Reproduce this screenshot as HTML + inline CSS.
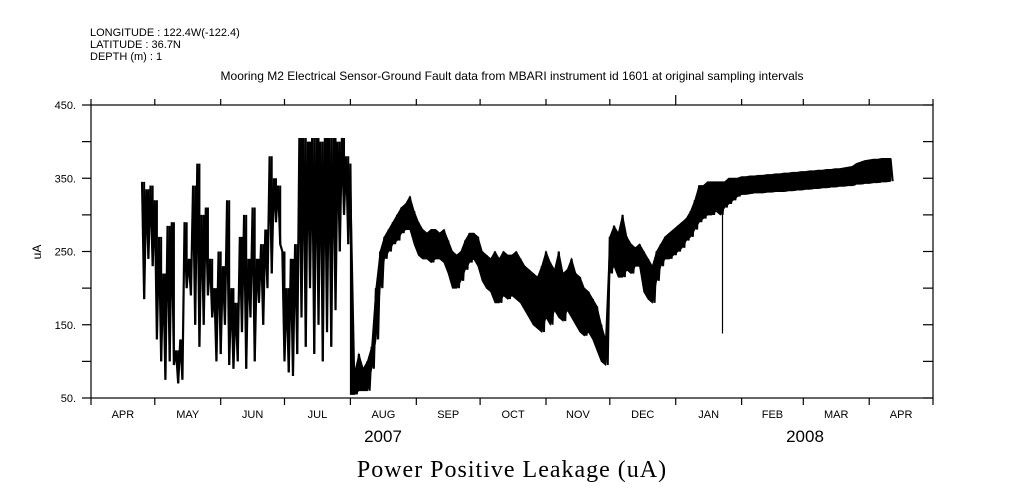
<!DOCTYPE html>
<html><head><meta charset="utf-8">
<style>
html,body{margin:0;padding:0;background:#fff;}
svg{display:block;font-family:"Liberation Sans",sans-serif;}
</style></head>
<body>
<svg id="chart" width="1009" height="504" viewBox="0 0 1009 504" xmlns="http://www.w3.org/2000/svg">
<g font-size="11" fill="#000">
<text x="90" y="36">LONGITUDE : 122.4W(-122.4)</text>
<text x="90" y="48">LATITUDE : 36.7N</text>
<text x="90" y="60">DEPTH (m) : 1</text>
<text x="512" y="80" text-anchor="middle" font-size="12">Mooring M2 Electrical Sensor-Ground Fault data from MBARI instrument id 1601 at original sampling intervals</text>
</g>
<g id="axes"></g>
<g id="series"></g>
<text x="41" y="252" font-size="12" text-anchor="middle" transform="rotate(-90 41 252)">uA</text>
<text x="383" y="442" font-size="17" text-anchor="middle">2007</text>
<text x="805" y="442" font-size="17" text-anchor="middle">2008</text>
<text x="512" y="477" font-size="24" text-anchor="middle" font-family="Liberation Serif, serif" letter-spacing="1">Power Positive Leakage (uA)</text>
</svg>
<script>
// ---- data ----
const monthLabels = ["APR","MAY","JUN","JUL","AUG","SEP","OCT","NOV","DEC","JAN","FEB","MAR","APR"];
const monthStartDays = [0,30,61,91,122,153,183,214,244,275,306,335,366,396];
const yTicks = [50,100,150,200,250,300,350,400,450];
const yTickLabels = ["50.","","150.","","250.","","350.","","450."];
const startDay = 24;
const stepDays = 2;
const lowValues = [185,240,230,130,100,75,100,95,70,75,200,190,150,120,150,190,160,100,110,150,
95,90,100,140,90,160,100,180,150,200,220,290,260,100,85,80,110,160,120,200,
110,150,100,140,120,170,250,300,260,55,55,60,60,60,90,130,200,240,250,260,
265,275,280,280,260,245,240,240,235,240,240,235,220,200,200,210,225,235,240,230,
210,200,195,180,180,190,185,190,185,180,170,160,150,145,140,160,150,170,160,155,
170,160,150,140,135,140,130,115,100,95,220,230,215,215,225,220,230,230,195,185,
180,210,230,240,240,245,250,255,265,270,280,290,295,300,300,305,300,310,315,320,
325,328,328,329,330,330,330,331,331,332,332,332,333,333,334,334,335,335,336,336,
337,337,338,338,339,339,340,340,342,342,343,343,344,344,345,345,346];
const highValues = [345,335,340,320,270,220,285,290,115,130,290,240,340,370,300,310,240,200,250,230,
320,200,180,270,300,240,310,240,260,280,380,350,340,250,200,240,260,405,405,400,
405,405,400,405,405,405,400,405,380,370,85,110,90,100,120,200,250,270,280,290,
300,310,315,325,305,290,280,275,280,280,275,280,265,250,245,250,265,275,275,270,
250,245,240,250,240,250,245,245,250,240,230,225,220,215,230,250,235,225,250,220,
225,240,220,215,200,195,185,175,150,130,270,285,275,300,270,260,255,260,250,240,
230,250,260,270,275,280,285,290,295,305,320,340,340,345,345,345,345,345,350,350,
350,352,352,353,353,354,354,355,355,356,356,357,357,358,358,359,359,360,360,361,
361,362,362,363,363,364,365,366,370,372,374,375,376,376,377,377,377];
const spikeDays = [297];
const spikeValues = [138];
const noisyEndDay = 122;

// ---- axis functions ----
const X0=91, X1=933, Y0=398, Y1=105, DMAX=396;
const xs = d => X0 + (d/DMAX)*(X1-X0);
const ys = v => Y0 - (v-50)/400*(Y0-Y1);
const NS="http://www.w3.org/2000/svg";
function mk(tag, attrs, parent){const e=document.createElementNS(NS,tag);for(const k in attrs)e.setAttribute(k,attrs[k]);parent.appendChild(e);return e;}
const axes=document.getElementById('axes');
const frame=mk('rect',{x:X0,y:Y1,width:X1-X0,height:Y0-Y1,fill:'none',stroke:'#000','stroke-width':1.2},axes);


monthStartDays.forEach((d,i)=>{
  const x=xs(d);
  const tb=mk('line',{x1:x,x2:x,y1:Y0,y2:Y0+7,stroke:'#000','stroke-width':1.2},axes);
  
  
  const tt=mk('line',{x1:x,x2:x,y1:Y1,y2:Y1-(d===275?10:6),stroke:'#000','stroke-width':1.2},axes);
  
  
  if(i<monthLabels.length){
    const t=mk('text',{x:(xs(d)+xs(monthStartDays[i+1]))/2,y:418,'font-size':11,'text-anchor':'middle'},axes);
    t.textContent=monthLabels[i];
    
    
  }
});
yTicks.forEach((v,i)=>{
  const y=ys(v);
  const tl=mk('line',{x1:X0-9,x2:X0,y1:y,y2:y,stroke:'#000','stroke-width':1.2},axes);
  
  
  const tr=mk('line',{x1:X1-10,x2:X1,y1:y,y2:y,stroke:'#000','stroke-width':1.2},axes);
  
  
  if(yTickLabels[i]){
    const t=mk('text',{x:76,y:y+4,'font-size':11,'text-anchor':'end'},axes);
    t.textContent=yTickLabels[i];
    
    
  }
});
// ---- series ----
const ser=document.getElementById('series');
const upperPts=[], lowerPts=[], zigPts=[];
lowValues.forEach((lo,i)=>{
  const d=startDay+i*stepDays;
  if(d>=noisyEndDay){
    upperPts.push(xs(d).toFixed(2)+','+ys(highValues[i]).toFixed(2));
    lowerPts.unshift(xs(d).toFixed(2)+','+ys(lo).toFixed(2));
  } else {
    const v=mk('line',{x1:xs(d+stepDays/2),x2:xs(d+stepDays/2),y1:ys(highValues[i]),y2:ys(lo),stroke:'#000','stroke-width':2},ser);
    
    
  }
  zigPts.push(xs(d).toFixed(2)+','+ys(highValues[i]).toFixed(2));
  zigPts.push(xs(d+stepDays/2).toFixed(2)+','+ys(lo).toFixed(2));
});
const band=mk('polygon',{points:upperPts.concat(lowerPts).join(' '),fill:'#000',stroke:'#000','stroke-width':1},ser);


const line=mk('polyline',{points:zigPts.join(' '),fill:'none',stroke:'#000','stroke-width':2.2},ser);


spikeDays.forEach((d,i)=>{
  const s=mk('line',{x1:xs(d),x2:xs(d),y1:ys(330),y2:ys(spikeValues[i]),stroke:'#000','stroke-width':1.2},ser);
  
  
});
</script>
</body></html>
